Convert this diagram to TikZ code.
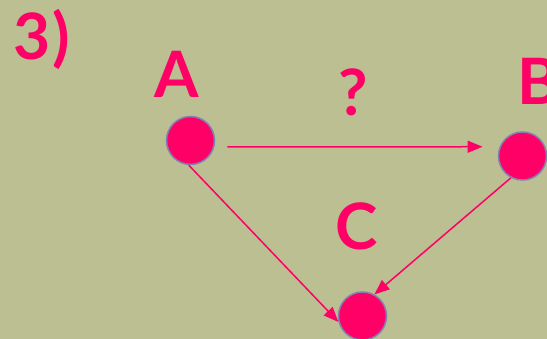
\documentclass[tikz,border=0pt]{standalone}
\usepackage{fontspec}
\setmainfont{Lato}
\usetikzlibrary{arrows.meta}
\definecolor{bg}{RGB}{187,191,145}
\definecolor{pk}{RGB}{255,0,102}
\definecolor{rim}{RGB}{128,130,176}
\begin{document}
\begin{tikzpicture}[x=1pt,y=-1pt,
  dot/.style={circle,minimum size=48pt,inner sep=0pt,fill=pk,draw=rim,line width=1.5pt},
  lbl/.style={text=pk,font=\fontsize{64}{64}\selectfont\bfseries,inner sep=0pt},
  conn/.style={draw=pk,line width=1.5pt,-{Triangle[length=15pt,width=12pt]}}]
\fill[bg] (0,0) rectangle (547,339);
\useasboundingbox (0,0) rectangle (547,339);
\node[lbl,anchor=base west] (n3) at (13,60) {3\kern2pt)};
\node[lbl,anchor=base] (la) at (176.5,98) {A};
\node[lbl,anchor=base] (lq) at (353.5,116) {?};
\node[lbl,anchor=base west] (lb) at (517,105) {B};
\node[lbl,anchor=base] (lc) at (357,250) {C};
\node[dot] (A) at (190.5,140.5) {};
\node[dot] (B) at (522.5,156) {};
\node[dot] (C) at (362.5,316) {};
\draw[conn,shorten <=13pt,shorten >=17pt] (A.-15) -- (B.158);
\draw[conn] (A.266) -- (C.194);
\draw[conn] (B.242) -- (C.61);
\end{tikzpicture}
\end{document}
